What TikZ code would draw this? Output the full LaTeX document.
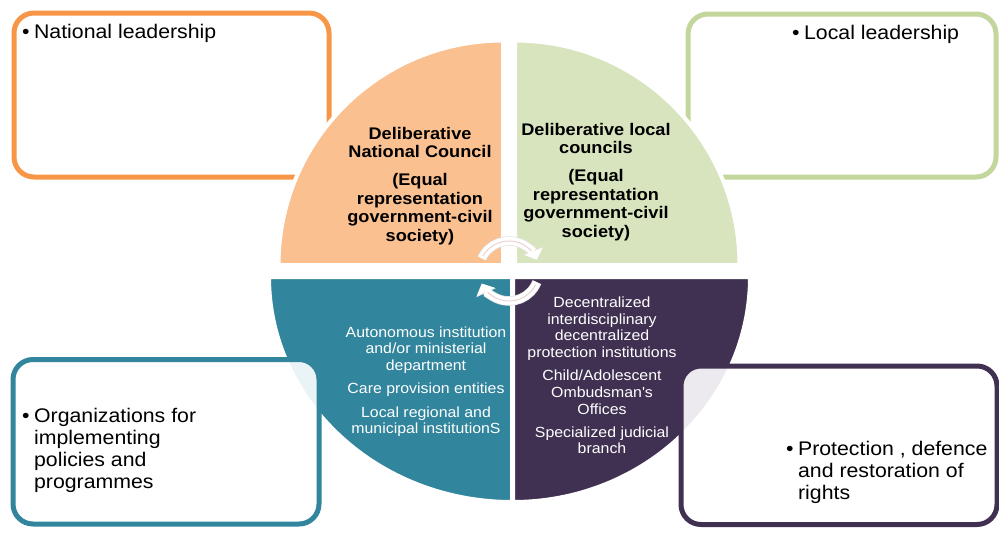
\documentclass[tikz,border=0pt]{standalone}
\usepackage{fontspec}
\setmainfont{Liberation Sans}[FakeStretch=1.08]
\usetikzlibrary{arrows.meta,calc}
\definecolor{orQ}{HTML}{FAC090}
\definecolor{orB}{HTML}{F79646}
\definecolor{grQ}{HTML}{D7E4BD}
\definecolor{grB}{HTML}{C3D69B}
\definecolor{tealC}{HTML}{31859C}
\definecolor{purpC}{HTML}{403152}
\definecolor{pinkL}{HTML}{E9CFCF}
\definecolor{edgeL}{HTML}{E4E4E4}
\newcommand\bulitem[1]{\begin{tabular}[t]{@{}l@{\hspace{4.5pt}}l@{}}\textbullet & #1\end{tabular}}
\begin{document}
\begin{tikzpicture}[x=1pt,y=-1pt,
  box/.style={rounded corners=20pt, line width=5pt},
  quad/.style={draw=white, line width=4pt},
  boxtext/.style={anchor=base west, inner sep=0pt, font=\fontsize{19.7}{22}\selectfont},
  toptext/.style={anchor=north, inner sep=0pt, align=center, font=\fontsize{16.8}{18.5}\selectfont\bfseries},
  bottext/.style={anchor=north, inner sep=0pt, align=center, text=white, font=\fontsize{14.7}{16.7}\selectfont},
  cyce/.style={edgeL, line width=9.5pt, -{Triangle[width=21pt,length=10pt]}},
  cyc/.style={white, line width=8pt, -{Triangle[width=19pt,length=9pt]}},
  cycl/.style={pinkL, line width=0.9pt}]
\useasboundingbox (0,0) rectangle (999,533);
% top boxes (under the quadrants)
\draw[box, draw=orB, fill=white] (14,13) rectangle (329,177);
\draw[box, draw=grB, fill=white] (688,14) rectangle (996,177);
% quadrants
\filldraw[quad, fill=orQ] (503,265) -- (278.5,265) arc[start angle=180, end angle=270, radius=224.5] -- cycle;
\filldraw[quad, fill=grQ] (515,265) -- (515,40.5) arc[start angle=270, end angle=360, radius=224.5] -- cycle;
\filldraw[quad, fill=tealC] (512,277) -- (269,277) arc[start angle=180, end angle=90, x radius=243, y radius=225] -- cycle;
\filldraw[quad, fill=purpC] (513,277) -- (513,502) arc[start angle=90, end angle=0, x radius=237, y radius=225] -- cycle;
% bottom boxes (over the quadrants)
\draw[box, draw=tealC, fill=white, fill opacity=0.9, draw opacity=1] (13,359.5) rectangle (319,524);
\draw[box, draw=purpC, fill=white, fill opacity=0.9, draw opacity=1] (681,366) rectangle (997,524.5);
% box texts
\node[boxtext] (nat) at (22,38) {\bulitem{National leadership}};
\node[boxtext] (loc) at (792,39) {\bulitem{Local leadership}};
\node[boxtext] (org) at (22,422) {\bulitem{Organizations for\\ & implementing\\ & policies and\\ & programmes}};
\node[boxtext] (pro) at (786,455) {\bulitem{Protection , defence\\ & and restoration of\\ & rights}};
% quadrant texts
\node[toptext] (dnc) at (420,127) {Deliberative\\National Council\\[9.5pt](Equal\\representation\\government-civil\\society)};
\node[toptext] (dlc) at (596,123) {Deliberative local\\councils\\[9.5pt](Equal\\representation\\government-civil\\society)};
\node[bottext] (aut) at (426,326.2) {Autonomous institution\\and/or ministerial\\department\\[6.7pt]Care provision entities\\[6.7pt]Local regional and\\municipal institutionS};
\node[bottext] (dec) at (602,296.5) {Decentralized\\interdisciplinary\\decentralized\\protection institutions\\[6.5pt]Child/Adolescent\\Ombudsman\textquotesingle s\\Offices\\[6.5pt]Specialized judicial\\branch};
% central cycle arrows
\coordinate (cc) at (509,271);
\draw[cyce] ($(cc)+(205:30)$) arc[start angle=205, end angle=338, radius=30];
\draw[cyce] ($(cc)+(22:30)$) arc[start angle=22, end angle=155, radius=30];
\draw[cyc] ($(cc)+(205:30)$) arc[start angle=205, end angle=338, radius=30];
\draw[cyc] ($(cc)+(22:30)$) arc[start angle=22, end angle=155, radius=30];
\draw[cycl] ($(cc)+(210:30)$) arc[start angle=210, end angle=318, radius=30];
\draw[cycl] ($(cc)+(27:30)$) arc[start angle=27, end angle=135, radius=30];
\end{tikzpicture}
\end{document}
